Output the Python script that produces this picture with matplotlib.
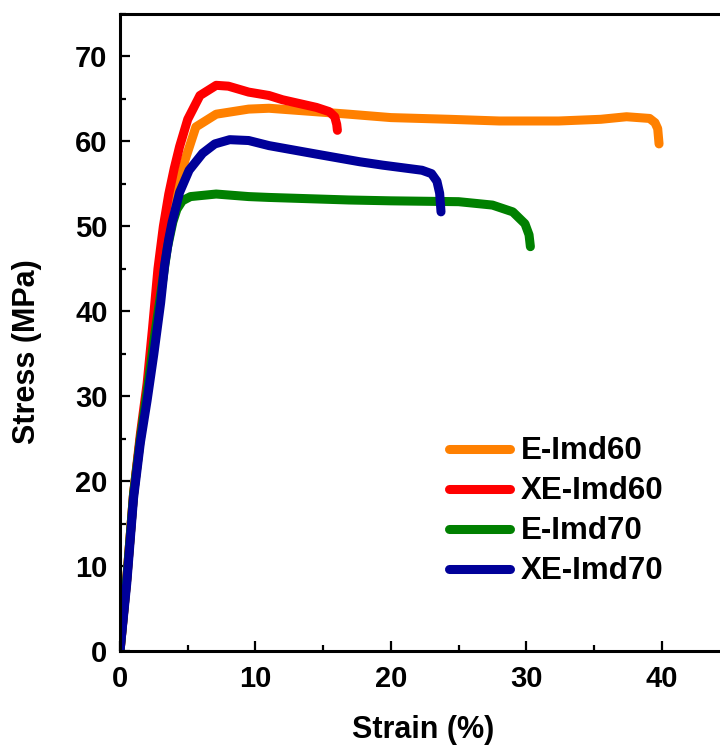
import matplotlib.pyplot as plt
from matplotlib.ticker import MultipleLocator

plt.rcParams['font.family'] = ['Liberation Sans', 'DejaVu Sans']
plt.rcParams['font.weight'] = 'bold'

# Stress-strain curves (strain in %, stress in MPa)
e60_strain = [0, 0.5, 1.0, 1.5, 2.0, 2.5, 3.0, 3.5, 3.9, 4.2, 4.8, 5.6, 7.1, 9.5, 11.0,
              16.9, 20.0, 24.3, 28.0, 32.4, 35.5, 37.4, 39.1, 39.5, 39.7, 39.8]
e60_stress = [0, 8.5, 18.5, 25.0, 30.5, 36.5, 42.5, 48.0, 52.0, 54.0, 57.8, 61.7, 63.2, 63.8, 63.9,
              63.2, 62.8, 62.6, 62.4, 62.4, 62.6, 62.9, 62.7, 62.2, 61.5, 59.7]

xe60_strain = [0, 0.5, 1.0, 1.5, 2.0, 2.4, 2.8, 3.2, 3.6, 4.0, 4.4, 5.0, 5.9, 7.1, 8.0, 9.5, 11.0,
               12.0, 14.5, 15.45, 15.85, 16.0, 16.05]
xe60_stress = [0, 8.5, 18.5, 25.5, 31.5, 38.0, 45.0, 50.0, 53.8, 56.8, 59.4, 62.6, 65.4, 66.6, 66.5,
               65.8, 65.4, 64.9, 64.0, 63.5, 62.9, 62.0, 61.3]

e70_strain = [0, 0.5, 1.0, 1.5, 2.0, 2.5, 3.0, 3.5, 3.9, 4.2, 4.6, 5.2, 7.1, 9.5, 11.0,
              16.9, 20.0, 25.0, 27.5, 29.0, 29.9, 30.2, 30.3]
e70_stress = [0, 8.5, 18.5, 25.0, 30.5, 36.5, 42.0, 47.5, 50.5, 52.0, 53.0, 53.5, 53.8, 53.5, 53.4,
              53.1, 53.0, 52.9, 52.5, 51.7, 50.3, 49.0, 47.6]

xe70_strain = [0, 0.5, 1.0, 1.5, 2.0, 2.5, 3.0, 3.3, 3.6, 3.85, 4.4, 5.1, 6.1, 7.0, 8.1, 9.5,
               11.0, 14.5, 17.7, 19.4, 22.3, 23.0, 23.4, 23.6, 23.7]
xe70_stress = [0, 8.0, 18.0, 24.5, 29.5, 35.0, 41.0, 45.5, 48.5, 50.5, 54.0, 56.6, 58.6, 59.7, 60.2, 60.1,
               59.5, 58.5, 57.6, 57.2, 56.6, 56.2, 55.3, 53.9, 51.7]

labels = ['E-Imd60', 'XE-Imd60', 'E-Imd70', 'XE-Imd70']
colors = ['#FF8000', '#FF0000', '#008000', '#000099']
curves = [(e60_strain, e60_stress), (xe60_strain, xe60_stress),
          (e70_strain, e70_stress), (xe70_strain, xe70_stress)]

fig = plt.figure(figsize=(7.2, 7.47), dpi=100)
ax = fig.add_axes([0.1667, 0.1285, 0.8333, 0.8528])

for (x, y), lab, c in zip(curves, labels, colors):
    ax.plot(x, y, color=c, lw=6.5, label=lab,
            solid_capstyle='round', solid_joinstyle='round')

ax.set_xlim(0, 44.3)
ax.set_ylim(0, 75)
ax.set_xticks([0, 10, 20, 30, 40])
ax.set_yticks([0, 10, 20, 30, 40, 50, 60, 70])
ax.xaxis.set_minor_locator(MultipleLocator(5))
ax.yaxis.set_minor_locator(MultipleLocator(5))
ax.tick_params(which='major', direction='in', length=7.5, width=1.6, labelsize=21, pad=9)
ax.tick_params(which='minor', direction='in', length=4.5, width=1.6)
ax.tick_params(axis='x', which='major', pad=10)
ax.spines['right'].set_visible(False)
for s in ['left', 'top', 'bottom']:
    ax.spines[s].set_linewidth(2.2)

ax.set_xlabel('Strain (%)', fontsize=22, fontweight='bold')
ax.set_ylabel('Stress (MPa)', fontsize=22, fontweight='bold')
ax.xaxis.set_label_coords(0.505, -0.1)
ax.yaxis.set_label_coords(-0.13, 0.47)

ax.legend(loc='center', bbox_to_anchor=(0.7275, 0.219), frameon=False,
          prop={'size': 22.5, 'weight': 'bold'}, handlelength=1.95,
          handletextpad=0.35, labelspacing=0.32, borderpad=0)

fig.savefig('out.png', dpi=100)
